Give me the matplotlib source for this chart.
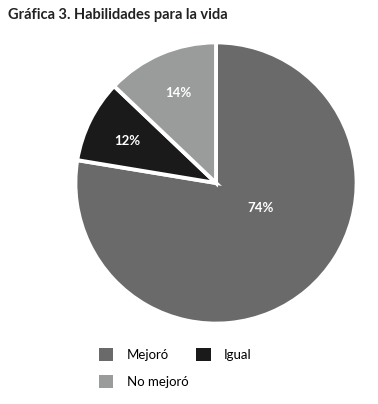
import matplotlib.pyplot as plt
from matplotlib.patches import Patch

# data
categorias = ["Mejoró", "Igual", "No mejoró"]
etiquetas = [74, 12, 14]            # printed percentages
porciones = [77.6, 9.5, 12.9]       # wedge sizes as drawn in the original
colores = ["#6a6a6a", "#1a1a1a", "#9a9b9b"]

plt.rcParams['font.family'] = ['Lato', 'DejaVu Sans']

fig = plt.figure(figsize=(3.78, 4.04), dpi=100)
ax = fig.add_axes([74 / 378, 79 / 404, 284 / 378, 284 / 404])

wedges, _ = ax.pie(porciones, colors=colores, startangle=90, counterclock=False,
                   wedgeprops=dict(edgecolor="white", linewidth=2.8))
ax.set_xlim(-1.01, 1.01)
ax.set_ylim(-1.01, 1.01)
ax.set_aspect("equal")

# label positions (axes data coords)
pos = [(0.32, -0.18), (-0.63, 0.30), (-0.27, 0.64)]
for v, (x, y) in zip(etiquetas, pos):
    ax.text(x, y, "%d%%" % v, color="white", fontsize=9.5, fontweight="bold",
            ha="center", va="center")

fig.text(8 / 378, 1 - 15 / 404, "Gráfica 3. Habilidades para la vida",
         fontsize=10.5, fontweight="bold", color="#222222", va="center")

handles = [Patch(facecolor=c, edgecolor="none") for c in colores]
order = [0, 2, 1]
fig.legend([handles[i] for i in order], [categorias[i] for i in order],
           ncol=2, loc="upper left", bbox_to_anchor=(87 / 378, 1 - 336 / 404),
           frameon=False, fontsize=9.5, handlelength=1.1, handleheight=1.1,
           handletextpad=1.0, columnspacing=0.6, labelspacing=1.1)

fig.savefig("out.png", dpi=100)
